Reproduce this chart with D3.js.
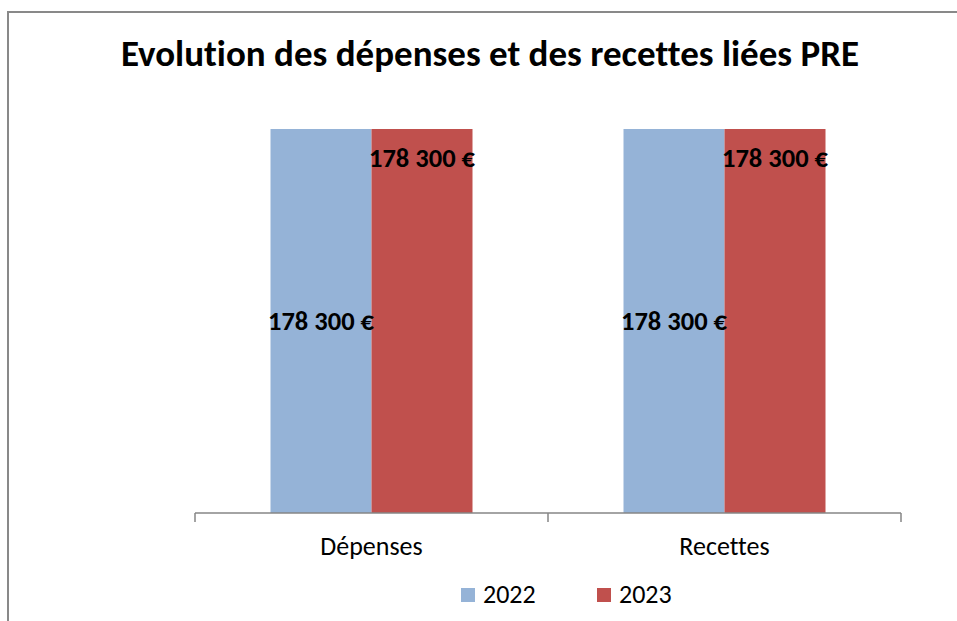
<!DOCTYPE html>
<html>
<head>
<meta charset="utf-8">
<script src="https://cdn.jsdelivr.net/npm/d3@7"></script>
<style>
  body { margin: 0; background: #fff; }
  text { font-family: Carlito, Calibri, Lato, sans-serif; font-variant-ligatures: none; }
</style>
</head>
<body>
<div id="chart"></div>
<script>
// data
var categories = ['Dépenses', 'Recettes'];
var years = ['2022', '2023'];
var values2022 = [178300, 178300];
var values2023 = [178300, 178300];
var colors = ['#95B3D7', '#C0504D'];
var title = 'Evolution des dépenses et des recettes liées PRE';

var width = 957, height = 621;

var svg = d3.select('#chart').append('svg')
  .attr('width', width)
  .attr('height', height);

// chart frame
svg.append('rect')
  .attr('x', 8).attr('y', 12)
  .attr('width', 1000).attr('height', 700)
  .attr('fill', 'white')
  .attr('stroke', '#898989')
  .attr('stroke-width', 2);

svg.append('text')
  .attr('x', 490).attr('y', 66)
  .attr('text-anchor', 'middle')
  .attr('font-weight', 'bold')
  .attr('font-size', 37)
  .text(title);

var plotTop = 129, plotBottom = 513;

var x0 = d3.scaleBand().domain(categories).range([195, 901]);
var x1 = d3.scaleBand().domain(years).range([0, x0.bandwidth()]).paddingOuter(0.7475);
var y = d3.scaleLinear().domain([0, 178300]).range([plotBottom, plotTop]);

var rows = categories.map(function(c, i){
  return { cat: c, vals: [values2022[i], values2023[i]] };
});

var groups = svg.selectAll('g.grp').data(rows)
  .enter().append('g')
  .attr('class', 'grp')
  .attr('transform', function(d){ return 'translate(' + x0(d.cat) + ',0)'; });

groups.selectAll('rect').data(function(d){
    return d.vals.map(function(v, j){ return { year: years[j], v: v, j: j }; });
  })
  .enter().append('rect')
  .attr('x', function(d){ return x1(d.year); })
  .attr('y', function(d){ return y(d.v); })
  .attr('width', x1.bandwidth())
  .attr('height', function(d){ return y(0) - y(d.v); })
  .attr('fill', function(d){ return colors[d.j]; });

var fmt = function(v){
  return d3.format(',')(v).replace(/,/g, ' ') + ' €';
};

// labels: 2022 centred, 2023 inside end
groups.selectAll('text.lbl').data(function(d){
    return d.vals.map(function(v, j){ return { year: years[j], v: v, j: j }; });
  })
  .enter().append('text')
  .attr('class', 'lbl')
  .attr('x', function(d){ return x1(d.year) + x1.bandwidth() / 2; })
  .attr('y', function(d){
    return d.j === 0 ? (y(d.v) + y(0)) / 2 + 9 : y(d.v) + 38;
  })
  .attr('text-anchor', 'middle')
  .attr('font-weight', 'bold')
  .attr('font-size', 26.5)
  .text(function(d){ return fmt(d.v); });

// category axis
var axis = svg.append('g')
  .attr('transform', 'translate(0,' + plotBottom + ')');
axis.append('line')
  .attr('x1', 195).attr('x2', 901)
  .attr('stroke', '#868686').attr('stroke-width', 1.5);
var tickPos = categories.map(function(c){ return x0(c); }).concat([x0.range()[1]]);
axis.selectAll('line.tick').data(tickPos)
  .enter().append('line')
  .attr('class', 'tick')
  .attr('x1', function(d){ return d; }).attr('x2', function(d){ return d; })
  .attr('y1', 0).attr('y2', 9)
  .attr('stroke', '#868686').attr('stroke-width', 1.5);
axis.selectAll('text').data(categories)
  .enter().append('text')
  .attr('x', function(d){ return x0(d) + x0.bandwidth() / 2; })
  .attr('y', 42)
  .attr('text-anchor', 'middle')
  .attr('font-size', 26)
  .text(function(d){ return d; });

// legend
var legendX = [461, 597];
var legend = svg.selectAll('g.leg').data(years)
  .enter().append('g')
  .attr('class', 'leg')
  .attr('transform', function(d, i){ return 'translate(' + legendX[i] + ',588)'; });
legend.append('rect')
  .attr('width', 14).attr('height', 14)
  .attr('fill', function(d, i){ return colors[i]; });
legend.append('text')
  .attr('x', 22).attr('y', 15)
  .attr('font-size', 26)
  .text(function(d){ return d; });
</script>
</body>
</html>
